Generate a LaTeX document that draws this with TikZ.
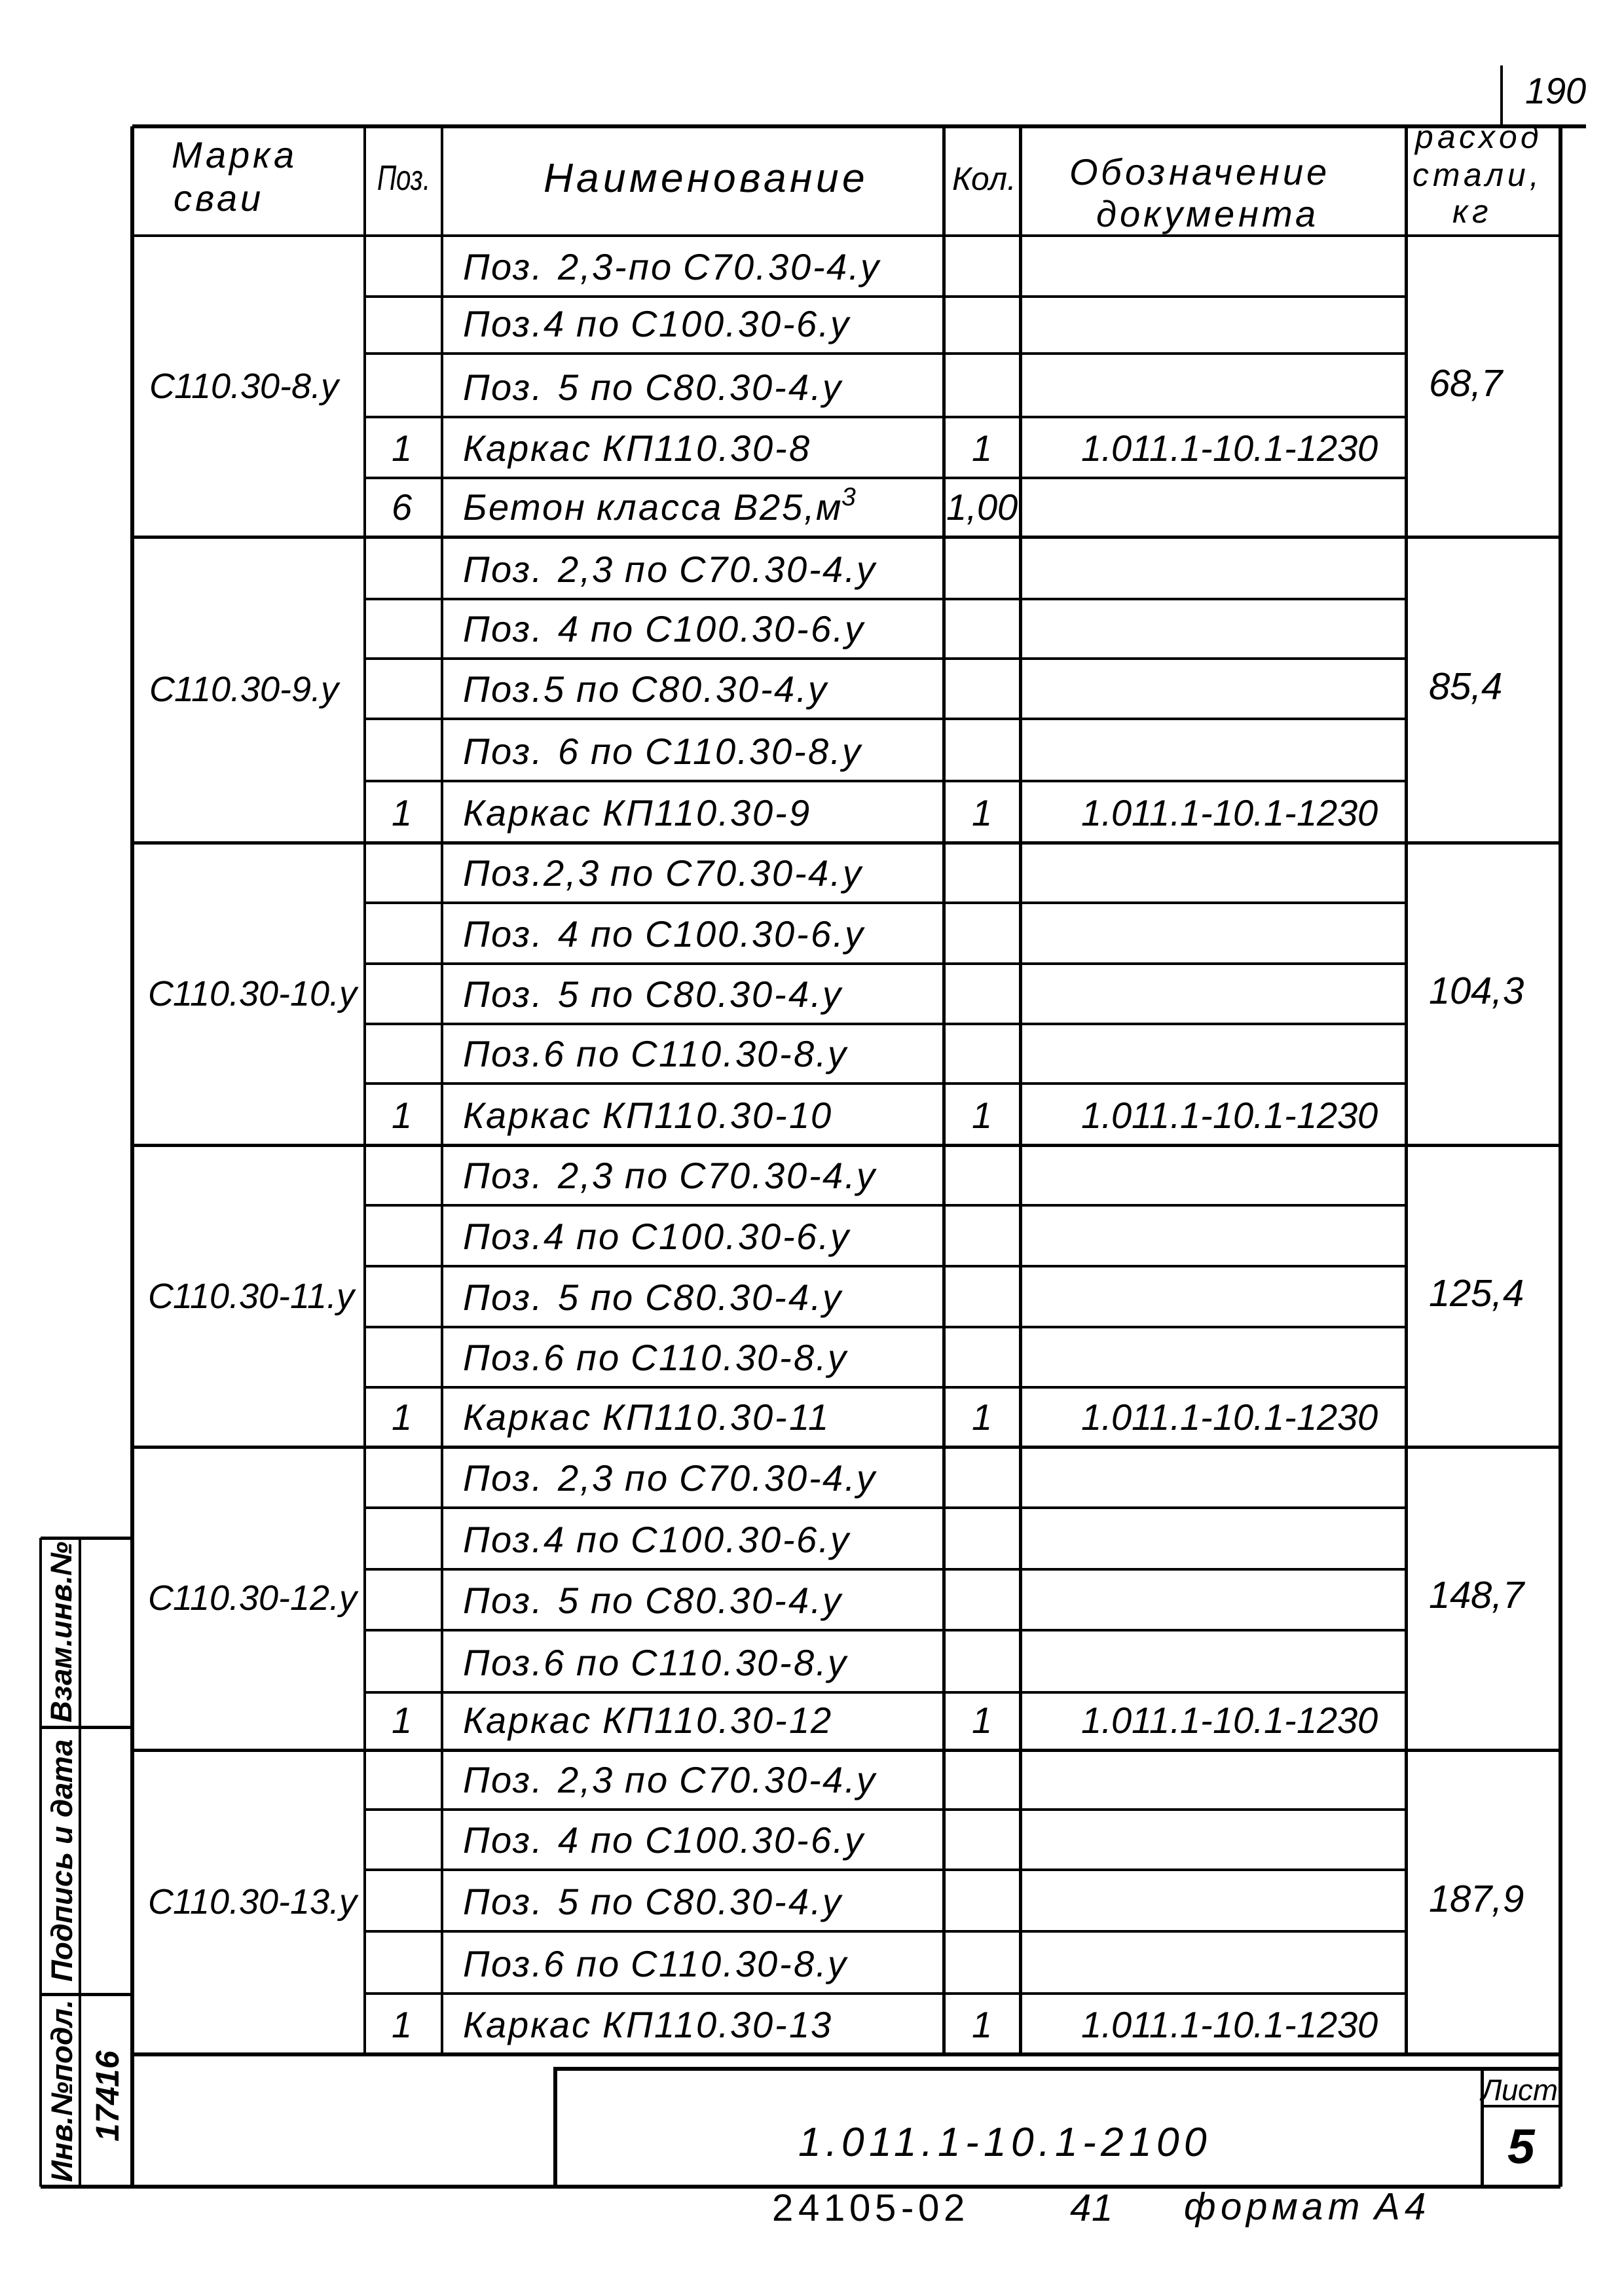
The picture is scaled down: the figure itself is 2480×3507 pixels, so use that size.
\documentclass[tikz,border=0pt]{standalone}
\usepackage{fontspec}
\usepackage{graphicx}
\setmainfont{Liberation Sans}
\newfontfamily\hand{Liberation Sans}[LetterSpace=5]
\newfontfamily\handh{Liberation Sans}[LetterSpace=9]
\newfontfamily\handw{Liberation Sans}[LetterSpace=12]
\newfontfamily\handn{Liberation Sans}
\begin{document}
\begin{tikzpicture}[x=0.084677mm,y=-0.084677mm,
  bord/.style={line width=1.6pt},
  colln/.style={line width=1.2pt},
  rowln/.style={line width=0.9pt},
  txt/.style={inner sep=0pt,outer sep=0pt,anchor=base west,font=\hand\itshape\fontsize{13.5}{15}\selectfont},
  numc/.style={inner sep=0pt,outer sep=0pt,anchor=base,font=\handn\itshape\fontsize{13.5}{15}\selectfont},
  pilemark/.style={inner sep=0pt,outer sep=0pt,anchor=base west,font=\handn\itshape\fontsize{13}{15}\selectfont},
  mass/.style={inner sep=0pt,outer sep=0pt,anchor=base west,font=\handn\itshape\fontsize{14}{16}\selectfont},
  hdr/.style={inner sep=0pt,outer sep=0pt,font=\handh\itshape\fontsize{13.5}{15}\selectfont},
  hdrm/.style={inner sep=0pt,outer sep=0pt,anchor=base,font=\handw\itshape\fontsize{12}{13}\selectfont},
  stampt/.style={inner sep=0pt,outer sep=0pt,rotate=90,font=\handn\itshape\bfseries\fontsize{11}{13}\selectfont}]
\useasboundingbox (0,0) rectangle (2480,3507);
% ---------- frame and grid ----------
\draw[bord] (202,193) -- (2422,193);
\draw[bord] (202,193) -- (202,3340);
\draw[bord] (2383,193) -- (2383,3340);
\draw[bord] (62,3340) -- (2383,3340);
\draw[bord] (202,3138) -- (2383,3138);
\foreach \x in {557,675,1441,1558,2147} \draw[colln] (\x,193) -- (\x,3138);
\foreach \y in {360,820,1287,1749,2210,2673} \draw[colln] (202,\y) -- (2383,\y);
\foreach \y in {453,540,637,730,915,1006,1098,1193,1379,1472,1564,1655,1841,1934,2027,2119,2303,2397,2490,2585,2764,2856,2950,3045}
  \draw[rowln] (557,\y) -- (2147,\y);
% title block
\draw[bord] (848,3340) -- (848,3160) -- (2383,3160);
\draw[colln] (2263,3160) -- (2263,3340);
\draw[rowln] (2263,3217) -- (2383,3217);
% side stamp
\draw[colln] (62,2349) -- (62,3340);
\draw[colln] (122,2349) -- (122,3340);
\foreach \y in {2349,2638,3046} \draw[colln] (62,\y) -- (202,\y);
% page number mark
\draw[rowln] (2293,100) -- (2293,193);
\node[inner sep=0pt,anchor=base,font=\handn\itshape\fontsize{13.5}{15}\selectfont] (pg) at (2376,158) {190};
% ---------- header ----------
\node[hdr,anchor=base west] (h1a) at (262,256) {Марка};
\node[hdr,anchor=base west] (h1b) at (265,322) {сваи};
\node[inner sep=0pt,anchor=base,font=\handn\itshape\fontsize{13}{15}\selectfont] (h2) at (617,290) {\scalebox{0.75}[1]{Поз.}};
\node[hdr,anchor=base,font=\handh\itshape\fontsize{15}{17}\selectfont] (h3) at (1076,293) {Наименование};
\node[inner sep=0pt,anchor=base,font=\handn\itshape\fontsize{12}{14}\selectfont] (h4) at (1503,290) {Кол.};
\node[hdr,anchor=base] (h5a) at (1830,282) {Обозначение};
\node[hdr,anchor=base] (h5b) at (1842,346) {документа};
\node[hdrm] (h6a) at (2256,226) {расход};
\node[hdrm] (h6b) at (2254,284) {стали,};
\node[hdrm] (h6c) at (2246,340) {кг};
% ---------- group 1 ----------
\node[pilemark] (m1) at (228,608) {С110.30-8.у};
\node[mass] (w1) at (2182,605) {68,7};
\node[txt] (n11) at (707,427) {Поз. 2,3-по С70.30-4.у};
\node[txt] (n12) at (707,514) {Поз.4 по С100.30-6.у};
\node[txt] (n13) at (707,611) {Поз. 5 по С80.30-4.у};
\node[numc] (p14) at (614,704) {1};
\node[txt] (n14) at (707,704) {Каркас КП110.30-8};
\node[numc] (k14) at (1500,704) {1};
\node[numc] (d14) at (1878,704) {1.011.1-10.1-1230};
\node[numc] (p15) at (614,794) {6};
\node[txt] (n15) at (707,794) {Бетон класса В25,м\textsuperscript{3}};
\node[numc] (k15) at (1500,794) {1,00};
% ---------- group 2 ----------
\node[pilemark] (m2) at (228,1071) {С110.30-9.у};
\node[mass] (w2) at (2182,1068) {85,4};
\node[txt] (n21) at (707,889) {Поз. 2,3 по С70.30-4.у};
\node[txt] (n22) at (707,980) {Поз. 4 по С100.30-6.у};
\node[txt] (n23) at (707,1072) {Поз.5 по С80.30-4.у};
\node[txt] (n24) at (707,1167) {Поз. 6 по С110.30-8.у};
\node[numc] (p25) at (614,1261) {1};
\node[txt] (n25) at (707,1261) {Каркас КП110.30-9};
\node[numc] (k25) at (1500,1261) {1};
\node[numc] (d25) at (1878,1261) {1.011.1-10.1-1230};
% ---------- group 3 ----------
\node[pilemark] (m3) at (226,1536) {С110.30-10.у};
\node[mass] (w3) at (2182,1533) {104,3};
\node[txt] (n31) at (707,1353) {Поз.2,3 по С70.30-4.у};
\node[txt] (n32) at (707,1446) {Поз. 4 по С100.30-6.у};
\node[txt] (n33) at (707,1538) {Поз. 5 по С80.30-4.у};
\node[txt] (n34) at (707,1629) {Поз.6 по С110.30-8.у};
\node[numc] (p35) at (614,1723) {1};
\node[txt] (n35) at (707,1723) {Каркас КП110.30-10};
\node[numc] (k35) at (1500,1723) {1};
\node[numc] (d35) at (1878,1723) {1.011.1-10.1-1230};
% ---------- group 4 ----------
\node[pilemark] (m4) at (226,1998) {С110.30-11.у};
\node[mass] (w4) at (2182,1995) {125,4};
\node[txt] (n41) at (707,1815) {Поз. 2,3 по С70.30-4.у};
\node[txt] (n42) at (707,1908) {Поз.4 по С100.30-6.у};
\node[txt] (n43) at (707,2001) {Поз. 5 по С80.30-4.у};
\node[txt] (n44) at (707,2093) {Поз.6 по С110.30-8.у};
\node[numc] (p45) at (614,2184) {1};
\node[txt] (n45) at (707,2184) {Каркас КП110.30-11};
\node[numc] (k45) at (1500,2184) {1};
\node[numc] (d45) at (1878,2184) {1.011.1-10.1-1230};
% ---------- group 5 ----------
\node[pilemark] (m5) at (226,2459) {С110.30-12.у};
\node[mass] (w5) at (2182,2456) {148,7};
\node[txt] (n51) at (707,2277) {Поз. 2,3 по С70.30-4.у};
\node[txt] (n52) at (707,2371) {Поз.4 по С100.30-6.у};
\node[txt] (n53) at (707,2464) {Поз. 5 по С80.30-4.у};
\node[txt] (n54) at (707,2559) {Поз.6 по С110.30-8.у};
\node[numc] (p55) at (614,2647) {1};
\node[txt] (n55) at (707,2647) {Каркас КП110.30-12};
\node[numc] (k55) at (1500,2647) {1};
\node[numc] (d55) at (1878,2647) {1.011.1-10.1-1230};
% ---------- group 6 ----------
\node[pilemark] (m6) at (226,2923) {С110.30-13.у};
\node[mass] (w6) at (2182,2920) {187,9};
\node[txt] (n61) at (707,2738) {Поз. 2,3 по С70.30-4.у};
\node[txt] (n62) at (707,2830) {Поз. 4 по С100.30-6.у};
\node[txt] (n63) at (707,2924) {Поз. 5 по С80.30-4.у};
\node[txt] (n64) at (707,3019) {Поз.6 по С110.30-8.у};
\node[numc] (p65) at (614,3112) {1};
\node[txt] (n65) at (707,3112) {Каркас КП110.30-13};
\node[numc] (k65) at (1500,3112) {1};
\node[numc] (d65) at (1878,3112) {1.011.1-10.1-1230};
% ---------- title block ----------
\node[inner sep=0pt,anchor=base,font=\handw\itshape\fontsize{15}{17}\selectfont] (doc) at (1531,3293) {1.011.1-10.1-2100};
\node[inner sep=0pt,anchor=base,font=\handn\itshape\fontsize{11}{13}\selectfont] (lst) at (2321,3208) {Лист};
\node[inner sep=0pt,anchor=base,font=\handn\itshape\bfseries\fontsize{18}{20}\selectfont] (five) at (2323,3304) {5};
% ---------- side stamp texts ----------
\node[stampt] (s1) at (94,2493) {Взам.инв.№};
\node[stampt] (s2) at (94,2842) {Подпись и дата};
\node[stampt] (s3) at (94,3194) {Инв.№подл.};
\node[stampt,font=\handn\itshape\bfseries\fontsize{12}{14}\selectfont] (s4) at (164,3202) {17416};
% ---------- below the frame ----------
\node[inner sep=0pt,anchor=base,font=\handw\fontsize{14}{16}\selectfont] (cpy) at (1327,3392) {24105-02};
\node[inner sep=0pt,anchor=base,font=\handn\itshape\fontsize{14}{16}\selectfont] (fortyone) at (1667,3392) {41};
\node[inner sep=0pt,anchor=base,font=\handw\itshape\fontsize{14}{16}\selectfont] (fmt) at (1993,3390) {формат А4};
\end{tikzpicture}
\end{document}
